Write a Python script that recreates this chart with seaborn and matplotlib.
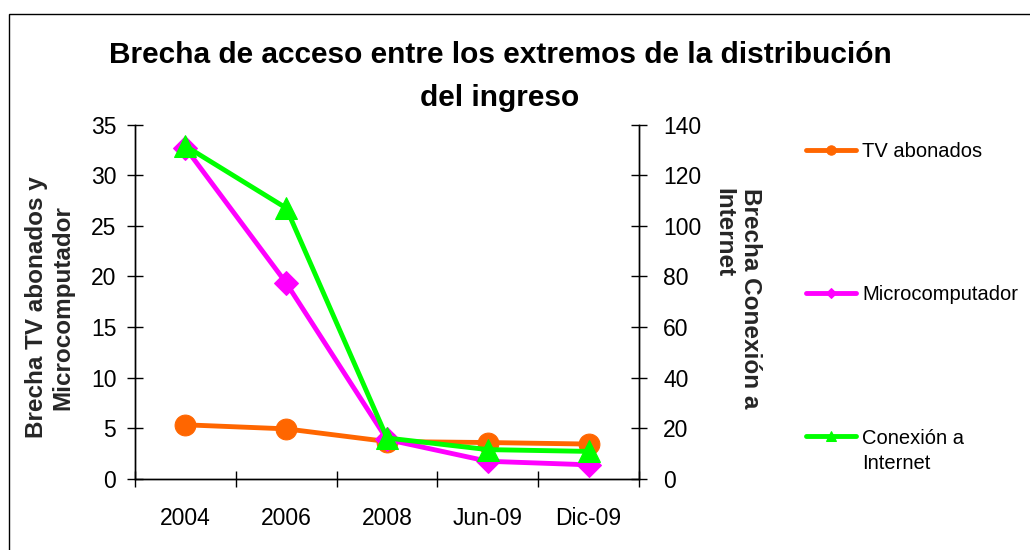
import matplotlib
matplotlib.use("Agg")
import matplotlib.pyplot as plt
from matplotlib.patches import Rectangle
from matplotlib.ticker import FixedLocator, MultipleLocator
import pandas as pd
import seaborn as sns

periodos = ["2004", "2006", "2008", "Jun-09", "Dic-09"]
tv_abonados = [5.35, 4.95, 3.7, 3.6, 3.45]
microcomputador = [32.7, 19.35, 3.9, 1.75, 1.4]
conexion_internet = [131.5, 107.0, 16.2, 11.6, 10.9]

colores = {"tv": "#FF6600", "micro": "#FF00FF", "internet": "#00FF00"}

sns.set_style("ticks")
plt.rcParams['font.family'] = ['Liberation Sans', 'DejaVu Sans']
plt.rcParams['text.color'] = 'black'
plt.rcParams['xtick.color'] = 'black'
plt.rcParams['ytick.color'] = 'black'
plt.rcParams['axes.edgecolor'] = 'black'

df = pd.DataFrame({
    "Periodo": periodos,
    "TV abonados": tv_abonados,
    "Microcomputador": microcomputador,
    "Conexion": conexion_internet,
})

fig = plt.figure(figsize=(10.3, 5.5), dpi=100)
ax = fig.add_axes([0.1311, 0.1291, 0.4893, 0.6445])
ax2 = ax.twinx()

sns.lineplot(data=df, x="Periodo", y="TV abonados", ax=ax, sort=False, errorbar=None,
             color=colores["tv"], marker="o", markersize=15, markeredgecolor=colores["tv"],
             linewidth=3.5, label="TV abonados", legend=False)
sns.lineplot(data=df, x="Periodo", y="Microcomputador", ax=ax, sort=False, errorbar=None,
             color=colores["micro"], marker="D", markersize=12, markeredgecolor=colores["micro"],
             linewidth=3.5, label="Microcomputador", legend=False)
sns.lineplot(data=df, x="Periodo", y="Conexion", ax=ax2, sort=False, errorbar=None,
             color=colores["internet"], marker="^", markersize=16, markeredgecolor=colores["internet"],
             linewidth=3.5, label="Conexión a", legend=False)

# ejes
ax.set_xlim(-0.5, 4.5)
ax.set_ylim(0, 35)
ax2.set_ylim(0, 140)
ax.yaxis.set_major_locator(MultipleLocator(5))
ax2.yaxis.set_major_locator(MultipleLocator(20))
ax.xaxis.set_minor_locator(FixedLocator([-0.5, 0.5, 1.5, 2.5, 3.5, 4.5]))

ax.tick_params(axis='x', which='major', length=0, pad=20, labelsize=16.5)
ax.tick_params(axis='x', which='minor', direction='inout', length=11, width=1)
ax.tick_params(axis='y', direction='inout', length=11, width=1, pad=8, labelsize=16.5)
ax2.tick_params(axis='y', direction='inout', length=11, width=1, pad=12, labelsize=16.5)

for a in (ax, ax2):
    a.spines['top'].set_visible(False)
    for s in ('left', 'right', 'bottom'):
        a.spines[s].set_linewidth(1)
        a.spines[s].set_color('black')

ax.set_xlabel("")
ax.set_ylabel("Brecha TV abonados y\nMicrocomputador", fontsize=17.5, fontweight='bold')
ax.yaxis.set_label_coords(-0.169, 0.485)
ax.yaxis.label.set_va('center')
ax2.set_ylabel("Brecha Conexión a\nInternet", fontsize=17.5, fontweight='bold',
               rotation=-90, multialignment='left')
ax2.yaxis.set_label_coords(1.194, 0.5106)
ax2.yaxis.label.set_va('center')

fig.suptitle("Brecha de acceso entre los extremos de la distribución\ndel ingreso",
             x=0.4854, y=0.9255, va='top', fontsize=21.5, fontweight='bold', linespacing=1.7)

# leyenda
h1, l1 = ax.get_legend_handles_labels()
h2, l2 = ax2.get_legend_handles_labels()
leg = fig.legend(h1 + h2, l1 + l2, loc='upper left', bbox_to_anchor=(806 / 1030, 1 - 142 / 550),
                 frameon=False, fontsize=14.5, labelspacing=6.17, handlelength=2.5,
                 handletextpad=0.3, borderpad=0, borderaxespad=0, markerscale=0.45)

# marco del grafico
fig.add_artist(Rectangle((9 / 1030, -0.5), 2, 0.5 + 1 - 14 / 550, transform=fig.transFigure,
                         fill=False, edgecolor='black', linewidth=1))

fig.canvas.draw()
bb = leg.get_texts()[2].get_window_extent()
fig.text(bb.x0 / 1030, (bb.y0 - 6) / 550, "Internet", fontsize=14.5, va='top', ha='left')

fig.savefig("out.png", dpi=100)
